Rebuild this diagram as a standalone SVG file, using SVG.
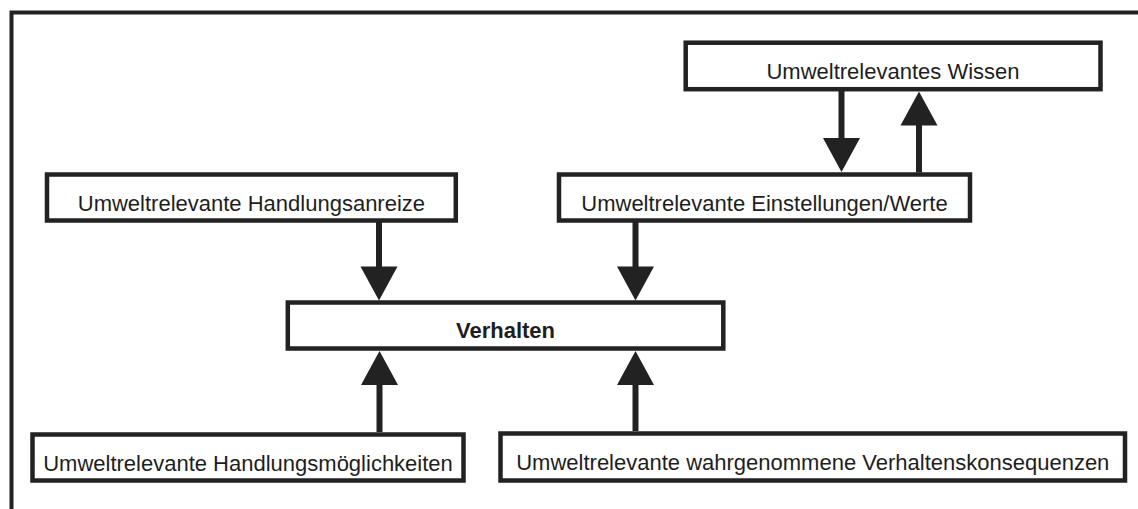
<svg xmlns="http://www.w3.org/2000/svg" width="1138" height="509" viewBox="0 0 1138 509">
  <style>
    .box { fill: #ffffff; stroke: #222222; stroke-width: 4.5; }
    .lbl { font-family: "Liberation Sans", Arial, sans-serif; font-size: 22px; fill: #1e1e1e; text-anchor: middle; }
    .bold { font-weight: bold; }
    .conn { stroke: #222222; stroke-width: 6; fill: none; marker-end: url(#head); }
    .frame { stroke: #222222; stroke-width: 4; fill: none; }
  </style>
  <defs>
    <marker id="head" markerUnits="userSpaceOnUse" markerWidth="34" markerHeight="37" refX="10" refY="18.5" orient="auto" overflow="visible">
      <path d="M0,0 L34,18.5 L0,37 Z" fill="#222222"/>
    </marker>
  </defs>
  <rect x="0" y="0" width="1138" height="509" fill="#ffffff"/>
  <path class="frame" d="M11.5,509 V12.5 H1138"/>

  <g id="connectors">
    <line class="conn" x1="379" y1="222" x2="379" y2="276.5"/>
    <line class="conn" x1="635.5" y1="222" x2="635.5" y2="276.5"/>
    <line class="conn" x1="379.5" y1="432" x2="379.5" y2="375"/>
    <line class="conn" x1="635.5" y1="431" x2="635.5" y2="375"/>
    <line class="conn" x1="841.5" y1="91" x2="841.5" y2="148"/>
    <line class="conn" x1="919" y1="172.5" x2="919" y2="115.5"/>
  </g>

  <g id="wissen">
    <rect class="box" x="685.7" y="42.7" width="414.8" height="46.5"/>
    <text class="lbl" x="893" y="78.5">Umweltrelevantes Wissen</text>
  </g>
  <g id="anreize">
    <rect class="box" x="47" y="174.5" width="408.8" height="46"/>
    <text class="lbl" x="251.4" y="210.5">Umweltrelevante Handlungsanreize</text>
  </g>
  <g id="einstellungen">
    <rect class="box" x="559" y="174.5" width="411" height="46"/>
    <text class="lbl" x="764.5" y="210.5">Umweltrelevante Einstellungen/Werte</text>
  </g>
  <g id="verhalten">
    <rect class="box" x="287.8" y="302.5" width="435.5" height="46"/>
    <text class="lbl bold" x="505.5" y="338">Verhalten</text>
  </g>
  <g id="moeglichkeiten">
    <rect class="box" x="32.5" y="434.5" width="431" height="46"/>
    <text class="lbl" x="248" y="470.5">Umweltrelevante Handlungsmöglichkeiten</text>
  </g>
  <g id="konsequenzen">
    <rect class="box" x="500.5" y="433.5" width="624.5" height="47"/>
    <text class="lbl" x="812.8" y="469.5">Umweltrelevante wahrgenommene Verhaltenskonsequenzen</text>
  </g>
</svg>
